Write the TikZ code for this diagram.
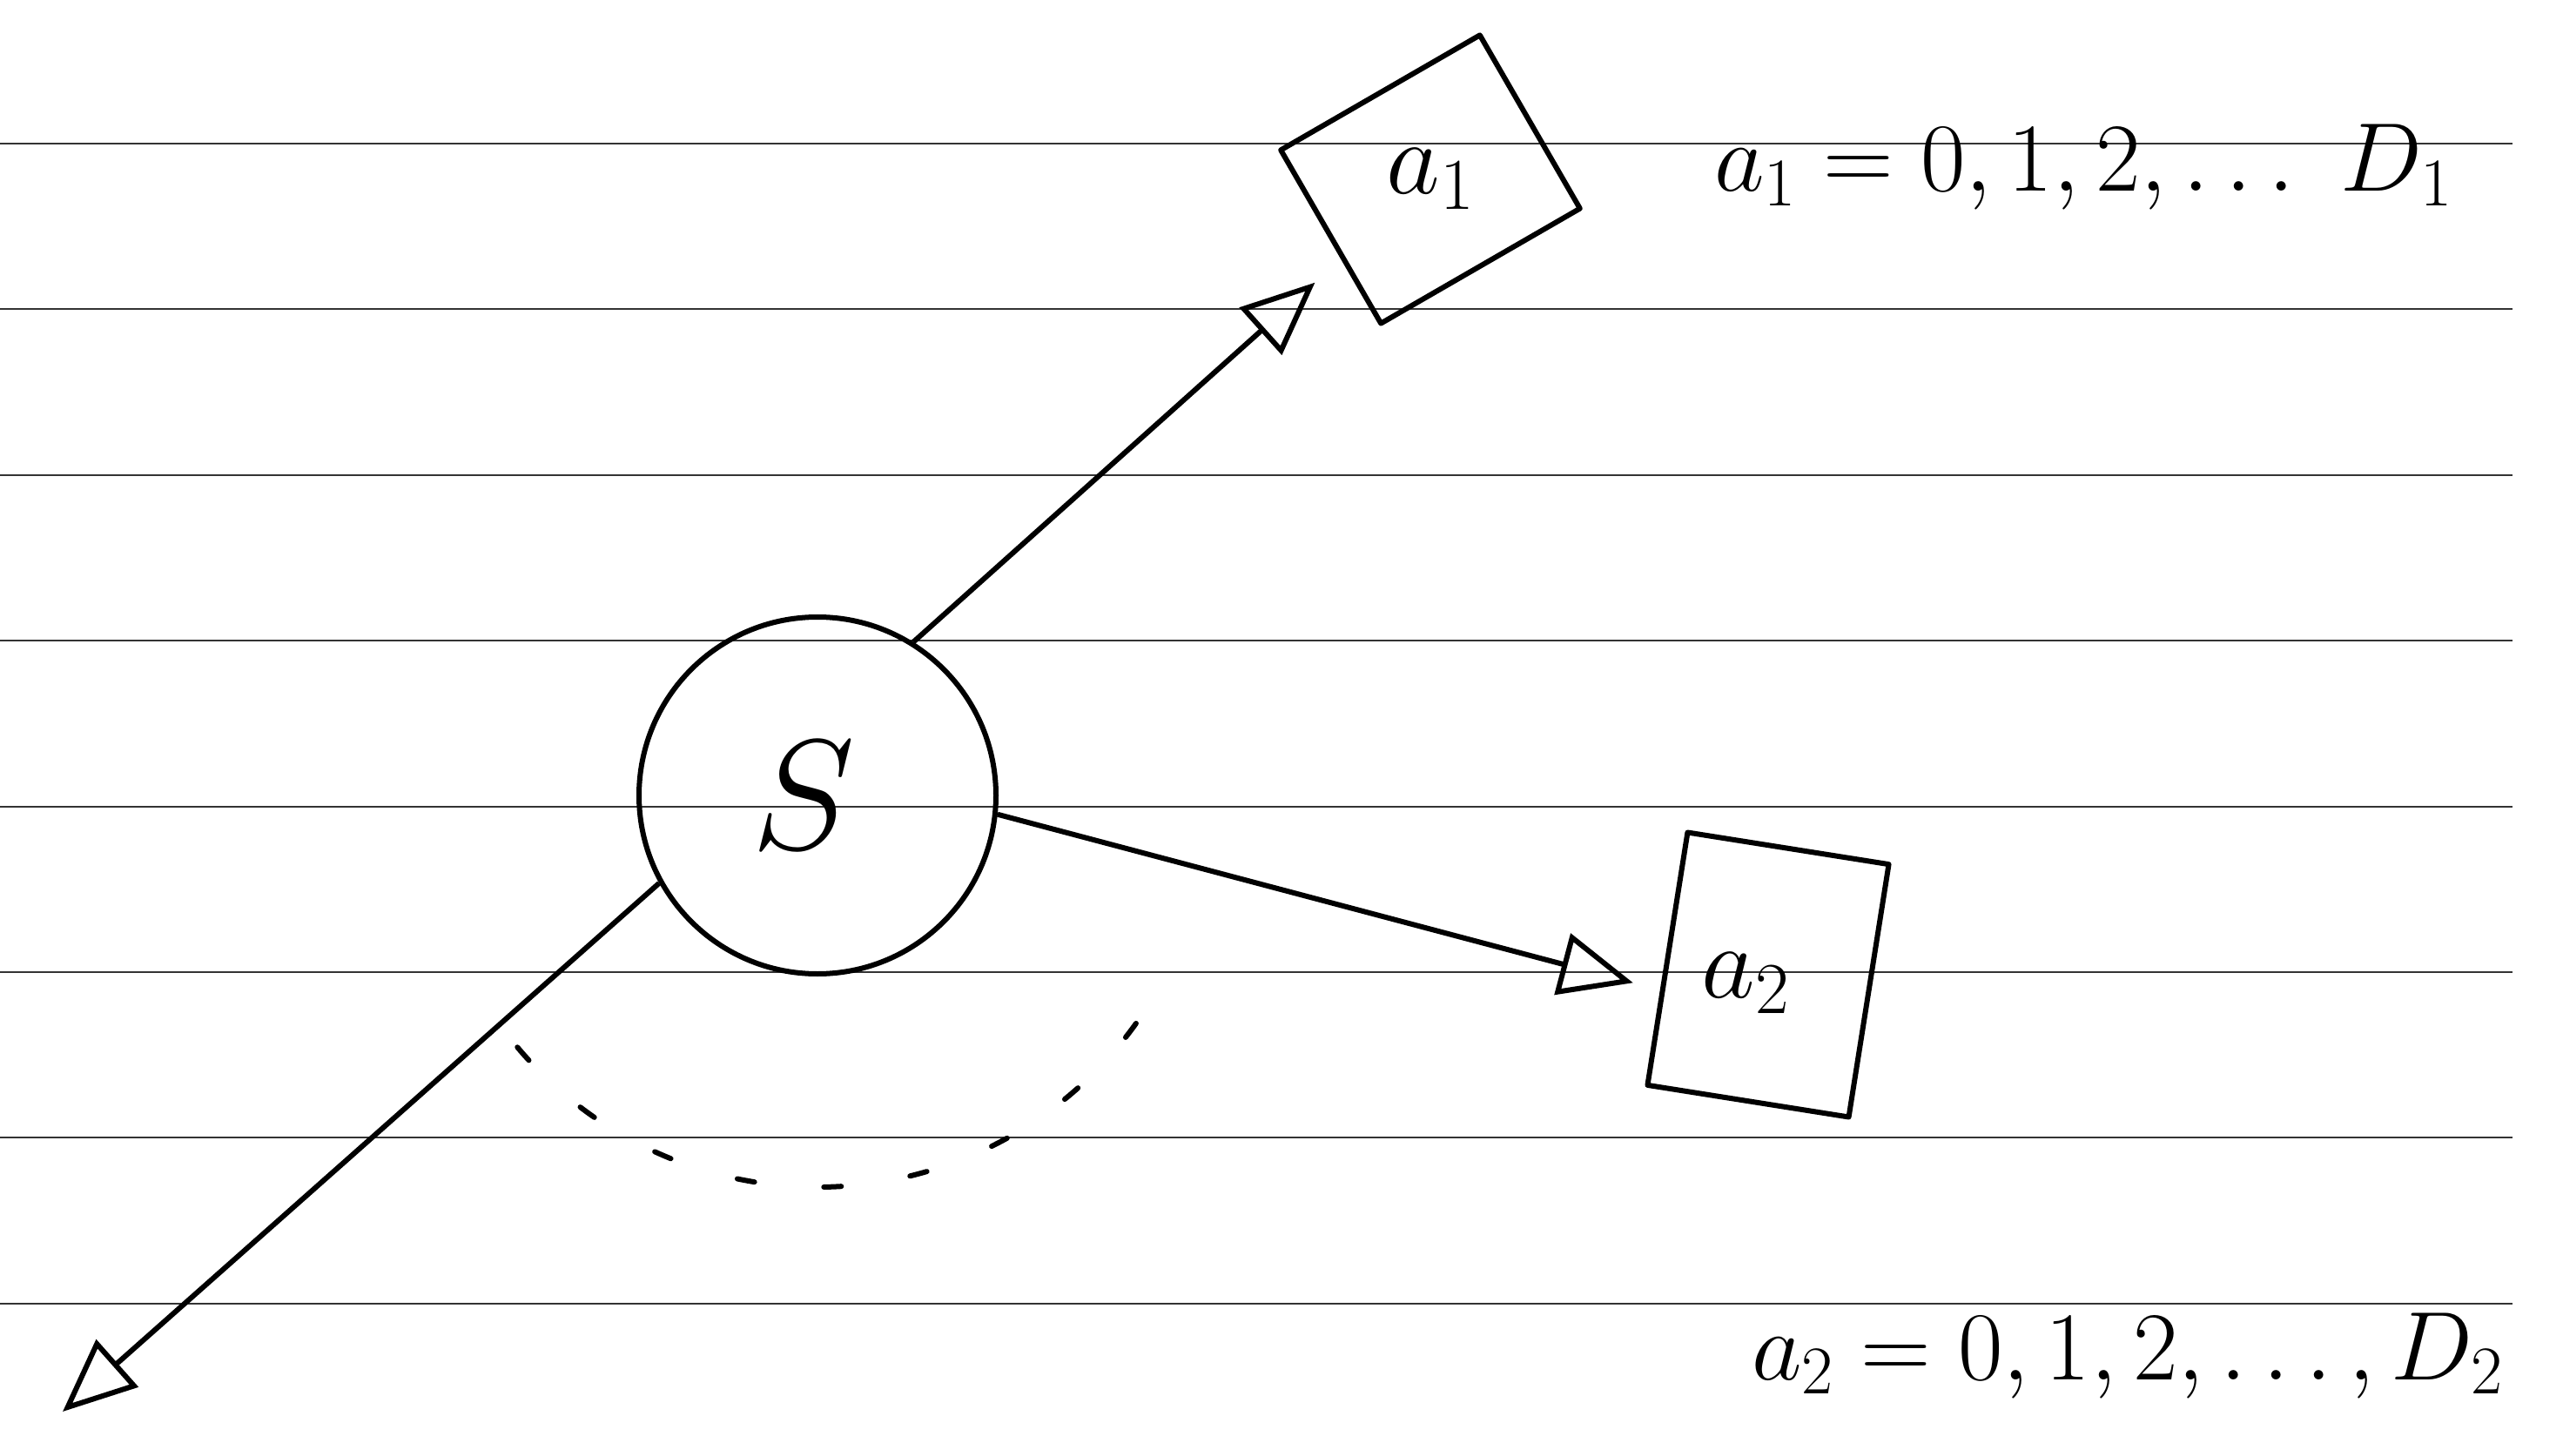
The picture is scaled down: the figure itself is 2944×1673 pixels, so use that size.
\documentclass[tikz,border=0pt]{standalone}
\usepackage{fix-cm}
\usepackage{amsmath,amssymb}
\usepackage{xcolor}
\usepackage{tikz}
\usetikzlibrary{arrows.meta,positioning}
\tikzset{
  ruled/.style={draw=black!80, line width=1pt},
  sk/.style={draw, line width=3pt, line cap=round, line join=round},
  stat/.style={circle, sk, minimum size=205pt, inner sep=0pt,
               font=\fontsize{90}{100}\selectfont},
  abox/.style={rectangle, sk, inner sep=0pt},
  lbl/.style={font=\fontsize{60}{70}\selectfont},
  eq/.style={anchor=base west, font=\fontsize{56}{66}\selectfont},
  ar/.style={-{Triangle[open, length=42pt, width=36pt]}, line width=3pt},
  arcdash/.style={line width=3pt, line cap=round, dash pattern=on 10pt off 40pt},
}

\begin{document}
\begin{tikzpicture}[x=0.5pt, y=-0.5pt]
  \useasboundingbox (0,0) rectangle (2944,1673);
  % ruled paper
  \foreach \k in {0,...,7}
    \draw[ruled] (0,{165+190.4*\k}) -- (2886,{165+190.4*\k});

  \node[stat] (S) at (939,914) {$S$\kern16pt};
  \node[abox, rotate=30, minimum width=132pt, minimum height=115pt] (b1) at (1643,206) {};
  \node[lbl] (l1) at (b1.center) {$a_1$};
  \node[abox, rotate=-9, minimum width=117pt, minimum height=147pt] (b2) at (2031,1120) {};
  \node[lbl] (l2) at (2005,1130) {$a_2$};
  \coordinate (far) at (72,1622);

  \draw[ar, shorten >=20pt] (S.58) -- (b1);
  \draw[ar, shorten >=16pt] (S.-6) -- (b2.197);
  \draw[ar] (S.209) -- (far);

  % angle between the two lower actions
  \draw[arcdash] ([shift={(220:225pt)}]S.center) arc[start angle=220, end angle=328, radius=225pt];

  \node[eq] (e1) at (1962,220) {$a_1 = 0,1,2,\ldots\ D_1$};
  \node[eq] (e2) at (2005,1585) {$a_2 = 0,1,2,\ldots, D_2$};
\end{tikzpicture}
\end{document}
